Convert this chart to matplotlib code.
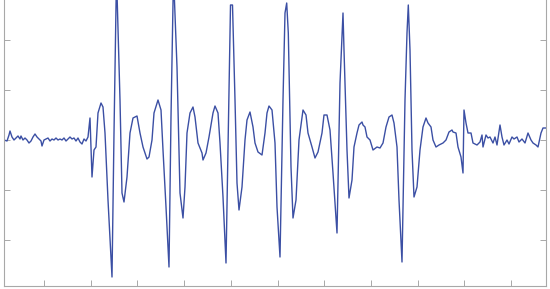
import numpy as np
import matplotlib
matplotlib.use("Agg")
import matplotlib.pyplot as plt

# sample index / amplitude
t = [0, 3, 5, 6, 8, 10, 12, 14, 16, 17, 19, 21, 23, 25, 27, 29, 31, 33, 35, 37,
     38, 40, 42, 44, 46, 48, 50, 52, 54, 56, 58, 60, 62, 64, 66, 68, 70, 72, 74, 76,
     78, 80, 82, 84,
     86, 88, 90, 92, 94, 97, 99, 101, 104, 108, 110, 112.5, 116, 118, 120, 123, 126,
     129, 133, 136, 139, 143, 145, 148, 150, 154, 157, 159, 162, 165, 167, 169.5,
     173, 176, 179, 181, 183, 186, 189, 191, 194, 198, 199, 202, 205, 209, 211, 214,
     216, 219, 222, 224.3, 226.5, 228.5, 231, 233, 235, 238, 241, 243, 246, 249, 251,
     254, 258, 261, 263, 265, 268, 271, 273, 276, 279, 281, 282.7, 284.3, 287, 289,
     292, 295, 298, 299, 302, 304, 308, 311, 314, 318, 320, 323, 326, 329, 333, 336,
     339, 340, 343, 345, 348, 350, 353, 355, 358, 359, 361, 363, 366, 369, 373, 376,
     379, 382, 385, 388, 390, 393, 395, 398, 401, 403, 404.3, 406, 408, 410, 413,
     416, 419, 422, 424, 427, 429, 432, 435, 439, 442, 445, 448, 449, 452, 454, 457,
     459, 460, 462, 464, 467, 469, 473, 476, 478, 479, 482, 484, 486, 489, 491, 493,
     496, 498, 500, 503, 505, 508, 510, 513, 515, 518, 521, 524, 527, 529, 532, 534,
     537, 539, 541, 542]
amp = [0.0, -0.02, 0.10, 0.18, 0.06, 0.0, 0.04, 0.08, 0.02, 0.08, 0.0, 0.04, 0.0,
       -0.06, -0.02, 0.06, 0.12, 0.06, 0.02, -0.02, -0.12, 0.0, 0.02, 0.04, -0.02,
       0.02, 0.0, 0.04, 0.0, 0.02, 0.0, 0.04, -0.02, 0.02, 0.06, 0.02, 0.04, -0.02,
       0.04, -0.04, -0.08, 0.02, -0.02, 0.06,
       0.44, -0.74, -0.20, -0.14, 0.54, 0.74, 0.66, 0.14, -1.20, -2.74, 0.14, 3.30,
       0.80, -1.06, -1.24, -0.74, 0.14, 0.44, 0.48, 0.14, -0.14, -0.38, -0.34, 0.0,
       0.54, 0.80, 0.60, -0.20, -1.34, -2.54, 0.46, 3.30, 1.46, -1.06, -1.56, -0.94,
       0.14, 0.54, 0.66, 0.46, -0.06, -0.26, -0.40, -0.26, 0.06, 0.54, 0.68, 0.54,
       -0.06, -1.14, -2.46, 0.14, 2.70, 2.70, 0.80, -0.86, -1.40, -0.94, 0.0, 0.40,
       0.56, 0.26, -0.06, -0.24, -0.30, 0.14, 0.54, 0.68, 0.60, -0.06, -1.34, -2.34,
       0.80, 2.54, 2.74, 2.14, -0.54, -1.56, -1.20, 0.0, 0.46, 0.60, 0.50, 0.14,
       -0.14, -0.36, -0.24, 0.14, 0.50, 0.50, 0.20, -0.66, -1.86, 1.14, 2.54, 1.80,
       -0.20, -1.16, -0.80, -0.14, 0.14, 0.30, 0.36, 0.30, 0.26, 0.06, 0.0, -0.20,
       -0.14, -0.16, -0.06, 0.26, 0.46, 0.50, 0.34, -0.14, -1.20, -2.44, 0.80, 2.14,
       2.70, 1.80, -0.20, -1.14, -0.94, -0.20, 0.26, 0.44, 0.34, 0.26, 0.0, -0.14,
       -0.10, -0.06, 0.0, 0.16, 0.20, 0.16, 0.14, -0.14, -0.34, -0.66, 0.60, 0.34,
       0.14, 0.14, -0.06, -0.10, -0.04, 0.10, -0.14, 0.10, 0.04, 0.06, -0.06, 0.06,
       -0.10, 0.30, 0.06, -0.10, 0.0, -0.08, 0.06, 0.02, 0.06, -0.04, 0.02, -0.06,
       0.14, 0.0, -0.06, -0.10, -0.14, 0.14, 0.24, 0.24, 0.24]

W, H = 550, 289
fig = plt.figure(figsize=(W / 100, H / 100), dpi=100)
ax = fig.add_axes([4 / W, 3.5 / H, 542 / W, 285.5 / H])

ax.plot(t, amp, color='#3b4fa4', linewidth=1.0)

ax.set_xlim(0, 542)
ax.set_ylim(-2.91, 2.8)
ax.set_xticks(40 + 46.7 * np.arange(11))
ax.set_yticks([-2, -1, 0, 1, 2])
ax.set_xticklabels([])
ax.set_yticklabels([])

grey = '#a8a8a8'
ax.spines['top'].set_visible(False)
for side in ['left', 'right', 'bottom']:
    ax.spines[side].set_color(grey)
    ax.spines[side].set_linewidth(0.8)
ax.tick_params(direction='in', length=4, width=0.7, color=grey,
               left=True, right=True, bottom=True, top=False)

fig.savefig('out.png', dpi=100)
